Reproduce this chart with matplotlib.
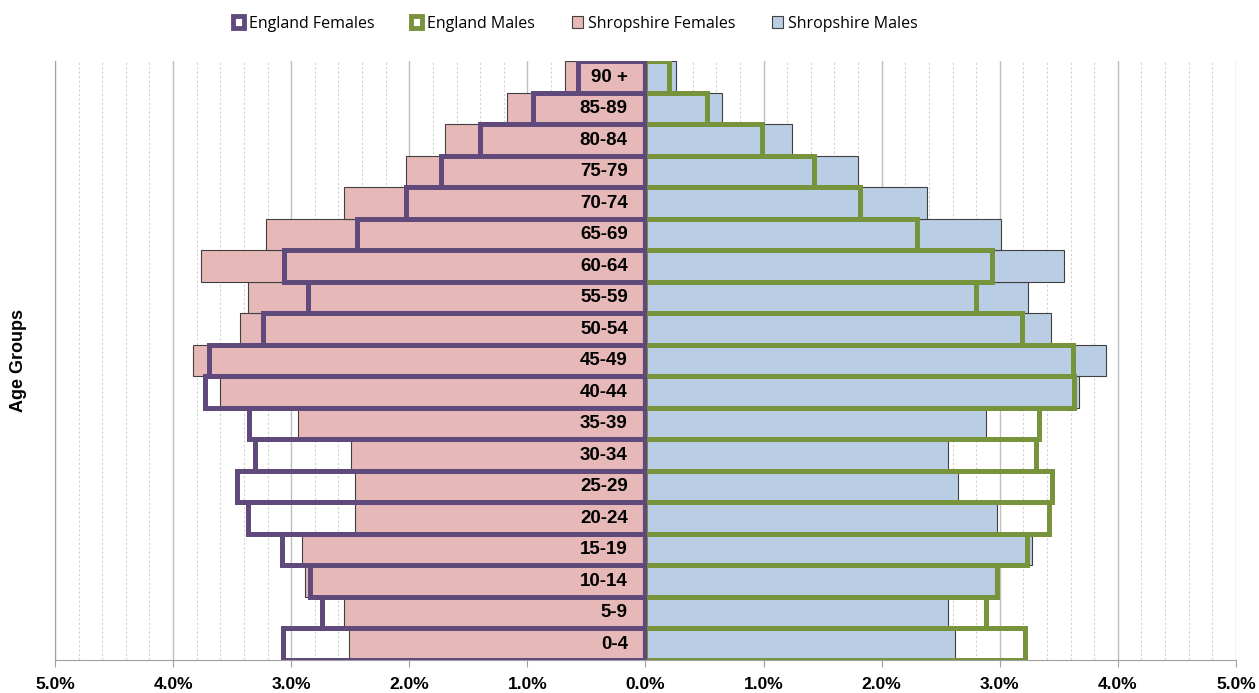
import matplotlib.pyplot as plt
from matplotlib.patches import Patch
from matplotlib.ticker import MultipleLocator, FuncFormatter

plt.rcParams['font.family'] = ['Liberation Sans', 'DejaVu Sans']

# age groups, bottom to top
ages = ['0-4', '5-9', '10-14', '15-19', '20-24', '25-29', '30-34', '35-39',
        '40-44', '45-49', '50-54', '55-59', '60-64', '65-69', '70-74',
        '75-79', '80-84', '85-89', '90 +']

# percent of population
shrop_f = [2.51, 2.55, 2.88, 2.91, 2.46, 2.46, 2.49, 2.94, 3.60, 3.83,
           3.43, 3.37, 3.76, 3.21, 2.55, 2.03, 1.70, 1.17, 0.68]
shrop_m = [2.62, 2.56, 2.96, 3.27, 2.98, 2.65, 2.56, 2.88, 3.67, 3.90,
           3.43, 3.24, 3.54, 3.01, 2.38, 1.80, 1.24, 0.65, 0.26]
eng_f = [3.07, 2.74, 2.84, 3.08, 3.37, 3.46, 3.31, 3.36, 3.73, 3.70,
         3.24, 2.86, 3.06, 2.44, 2.03, 1.73, 1.40, 0.95, 0.57]
eng_m = [3.21, 2.88, 2.98, 3.23, 3.42, 3.44, 3.31, 3.33, 3.63, 3.62,
         3.19, 2.80, 2.93, 2.30, 1.82, 1.43, 0.985, 0.52, 0.20]

pink = '#E6B9B8'
blue = '#B9CDE5'
purple = '#604A7B'
green = '#77933C'

fig = plt.figure(figsize=(12.59, 6.93), dpi=100)
ax = fig.add_axes([0.0437, 0.0476, 0.938, 0.864])

y = range(len(ages))

# Shropshire filled bars
ax.barh(y, [-v for v in shrop_f], height=1.0, color=pink, edgecolor='#404040',
        linewidth=0.8, zorder=2)
ax.barh(y, shrop_m, height=1.0, color=blue, edgecolor='#404040',
        linewidth=0.8, zorder=2)

# England outline bars on top
ax.barh(y, [-v for v in eng_f], height=1.0, fill=False, edgecolor=purple,
        linewidth=3.6, zorder=3)
ax.barh(y, eng_m, height=1.0, fill=False, edgecolor=green,
        linewidth=3.6, zorder=3)
# put the female bars over the male ones at the centre line
ax.axvline(0, color=purple, linewidth=3.0, zorder=4)

# age labels in the middle
for i, lab in enumerate(ages):
    ax.text(-0.15, i, lab, ha='right', va='center', fontsize=13.5,
            fontweight='bold', zorder=5)

ax.set_xlim(-5, 5)
ax.set_ylim(-0.5, len(ages) - 0.5)

ax.xaxis.set_major_locator(MultipleLocator(1))
ax.xaxis.set_minor_locator(MultipleLocator(0.2))
ax.xaxis.set_major_formatter(FuncFormatter(lambda v, p: f'{abs(v):.1f}%'))
ax.grid(which='major', axis='x', color='#BFBFBF', linewidth=1.0, zorder=0)
ax.grid(which='minor', axis='x', color='#D0D0D0', linewidth=0.8,
        linestyle=(0, (2, 2)), zorder=0)
ax.set_axisbelow(True)

ax.set_yticks([])
ax.tick_params(axis='x', which='major', direction='out', length=5,
               color='#A0A0A0', labelsize=12.5, pad=7)
ax.tick_params(axis='x', which='minor', length=0)
for t in ax.get_xticklabels():
    t.set_fontweight('bold')

for s in ['top', 'right']:
    ax.spines[s].set_visible(False)
for s in ['left', 'bottom']:
    ax.spines[s].set_color('#A0A0A0')

ax.set_ylabel('Age Groups', fontsize=13, fontweight='bold', labelpad=20)

handles = [
    Patch(facecolor='white', edgecolor=purple, linewidth=3.5, label='England Females'),
    Patch(facecolor='white', edgecolor=green, linewidth=3.5, label='England Males'),
    Patch(facecolor=pink, edgecolor='#404040', linewidth=0.8, label='Shropshire Females'),
    Patch(facecolor=blue, edgecolor='#404040', linewidth=0.8, label='Shropshire Males'),
]
fig.legend(handles=handles, loc='center', bbox_to_anchor=(0.457, 0.966), ncol=4,
           frameon=False, prop={'family': 'Open Sans', 'size': 11.5},
           handlelength=0.7, handleheight=0.7, handletextpad=0.3,
           columnspacing=2.3)

fig.savefig('out.png', dpi=100)
